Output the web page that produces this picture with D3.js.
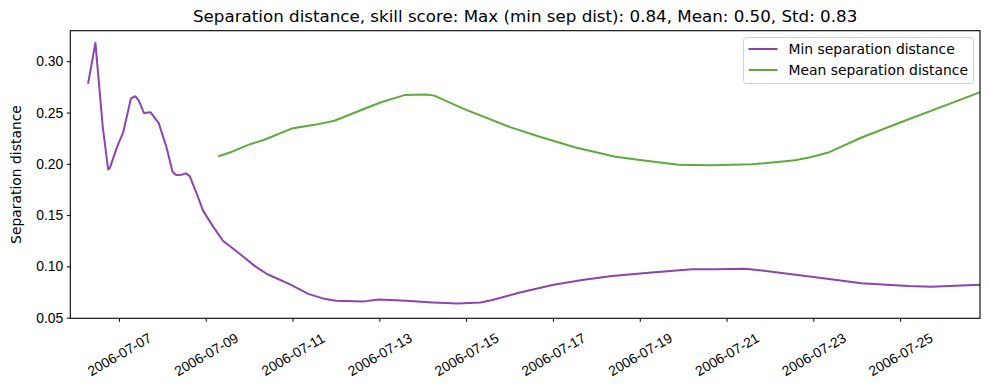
<!DOCTYPE html>
<html>
<head>
<meta charset="utf-8">
<script src="https://cdn.jsdelivr.net/npm/d3@7"></script>
<style>
  body { margin: 0; background: #fff; }
  svg { font-family: "DejaVu Sans", sans-serif; }
</style>
</head>
<body>
<svg id="chart"></svg>
<script>
// figure size
const width = 989, height = 390;
const margin = {top: 30.7, right: 9, bottom: 71.7, left: 70.3};

// series: min separation distance
const minTimes = [
  "2006-07-06 07:00", "2006-07-06 11:00", "2006-07-06 15:00", "2006-07-06 18:00", "2006-07-06 19:00",
  "2006-07-06 23:00", "2006-07-07 02:20", "2006-07-07 06:40", "2006-07-07 09:00", "2006-07-07 11:00",
  "2006-07-07 13:50", "2006-07-07 17:30", "2006-07-07 22:00", "2006-07-08 02:20", "2006-07-08 05:40",
  "2006-07-08 07:50", "2006-07-08 10:45", "2006-07-08 13:00", "2006-07-08 15:10", "2006-07-08 18:50",
  "2006-07-08 22:30", "2006-07-09 04:00", "2006-07-09 09:30", "2006-07-09 18:45", "2006-07-10 03:00",
  "2006-07-10 09:50", "2006-07-10 22:20", "2006-07-11 09:00", "2006-07-11 16:45", "2006-07-12 00:00",
  "2006-07-12 15:40", "2006-07-12 23:40", "2006-07-13 14:45", "2006-07-14 05:25", "2006-07-14 19:10",
  "2006-07-15 08:00", "2006-07-15 14:30", "2006-07-16 05:15", "2006-07-16 23:40", "2006-07-17 16:10",
  "2006-07-18 08:40", "2006-07-19 05:00", "2006-07-20 04:50", "2006-07-20 17:45", "2006-07-21 10:20",
  "2006-07-22 01:00", "2006-07-22 23:00", "2006-07-24 02:40", "2006-07-25 04:25", "2006-07-25 17:15",
  "2006-07-26 20:10"
];
const minValues = [
  0.279, 0.318, 0.237, 0.1946, 0.196,
  0.2168, 0.2306, 0.2639, 0.2659, 0.2616,
  0.2495, 0.2502, 0.2397, 0.2159, 0.192,
  0.189, 0.1894, 0.1907, 0.188, 0.1718,
  0.1544, 0.139, 0.125, 0.1123, 0.1005,
  0.0926, 0.0828, 0.073, 0.0688, 0.0665,
  0.0659, 0.0678, 0.0665, 0.0649, 0.0639,
  0.0649, 0.0672, 0.0743, 0.0819, 0.0868,
  0.0907, 0.0939, 0.0973, 0.0973, 0.0976,
  0.0949, 0.09, 0.0835, 0.0809, 0.0802,
  0.0822
];

// series: mean separation distance
const meanTimes = [
  "2006-07-09 07:20", "2006-07-09 13:15", "2006-07-10 00:15", "2006-07-10 07:40", "2006-07-11 00:10",
  "2006-07-11 12:10", "2006-07-11 23:10", "2006-07-12 18:30", "2006-07-13 01:00", "2006-07-13 14:20",
  "2006-07-14 01:45", "2006-07-14 06:20", "2006-07-14 22:00", "2006-07-16 00:40", "2006-07-16 16:15",
  "2006-07-17 12:30", "2006-07-18 10:35", "2006-07-19 01:15", "2006-07-19 21:30", "2006-07-20 15:50",
  "2006-07-21 14:00", "2006-07-22 13:55", "2006-07-22 23:00", "2006-07-23 08:15", "2006-07-24 02:40",
  "2006-07-25 02:35", "2006-07-26 20:10"
];
const meanValues = [
  0.2075, 0.211, 0.219, 0.223, 0.2348,
  0.238, 0.242, 0.2557, 0.26, 0.2672,
  0.2675, 0.2665, 0.2541, 0.2355, 0.2267,
  0.2159, 0.207, 0.2034, 0.1992, 0.1985,
  0.1995, 0.2034, 0.2067, 0.211, 0.2257,
  0.242, 0.2698
];

const xTickLabels = ["2006-07-07", "2006-07-09", "2006-07-11", "2006-07-13", "2006-07-15",
  "2006-07-17", "2006-07-19", "2006-07-21", "2006-07-23", "2006-07-25"];
const yTickValues = [0.05, 0.10, 0.15, 0.20, 0.25, 0.30];
const xDomain = ["2006-07-05 21:06", "2006-07-26 20:10"];
const yDomain = [0.0494, 0.3298];

const titleText = "Separation distance, skill score: Max (min sep dist): 0.84, Mean: 0.50, Std: 0.83";
const seriesNames = ["Min separation distance", "Mean separation distance"];
const seriesColors = ["#8e44ad", "#5dab3c"];

const parseTime = d3.timeParse("%Y-%m-%d %H:%M");
const parseDay = d3.timeParse("%Y-%m-%d");

const minData = minTimes.map((t, i) => ({t: parseTime(t), v: minValues[i]}));
const meanData = meanTimes.map((t, i) => ({t: parseTime(t), v: meanValues[i]}));

const svg = d3.select("#chart").attr("width", width).attr("height", height);

const x = d3.scaleTime()
  .domain(xDomain.map(parseTime))
  .range([margin.left, width - margin.right]);
const y = d3.scaleLinear()
  .domain(yDomain)
  .range([height - margin.bottom, margin.top]);

// clip so lines stop at the frame
svg.append("clipPath").attr("id", "plotClip")
  .append("rect")
  .attr("x", margin.left).attr("y", margin.top)
  .attr("width", width - margin.left - margin.right)
  .attr("height", height - margin.top - margin.bottom);

const line = d3.line().x(d => x(d.t)).y(d => y(d.v));

const lines = svg.append("g").attr("clip-path", "url(#plotClip)");
[minData, meanData].forEach((data, i) => {
  lines.append("path")
    .datum(data)
    .attr("d", line)
    .attr("fill", "none")
    .attr("stroke", seriesColors[i])
    .attr("stroke-width", 2)
    .attr("stroke-linejoin", "round")
    .attr("stroke-linecap", "square");
});

const tickFont = 13.9;

// x axis
const xAxis = svg.append("g")
  .attr("transform", `translate(0,${height - margin.bottom})`)
  .call(d3.axisBottom(x)
    .tickValues(xTickLabels.map(parseDay))
    .tickSize(3.5)
    .tickFormat(d3.timeFormat("%Y-%m-%d")));
xAxis.select(".domain").remove();
xAxis.selectAll(".tick line").attr("stroke", "#000").attr("stroke-width", 1);
xAxis.selectAll(".tick text")
  .attr("font-size", tickFont)
  .attr("fill", "#000")
  .attr("text-anchor", "middle")
  .attr("dominant-baseline", "central")
  .attr("x", 0).attr("y", 0).attr("dy", null)
  .attr("transform", "translate(0,36) rotate(-30)");

// y axis
const yAxis = svg.append("g")
  .attr("transform", `translate(${margin.left},0)`)
  .call(d3.axisLeft(y)
    .tickValues(yTickValues)
    .tickSize(3.5)
    .tickPadding(3.5)
    .tickFormat(d3.format(".2f")));
yAxis.select(".domain").remove();
yAxis.selectAll(".tick line").attr("stroke", "#000").attr("stroke-width", 1);
yAxis.selectAll(".tick text").attr("font-size", tickFont).attr("fill", "#000");

// frame
svg.append("rect")
  .attr("x", margin.left).attr("y", margin.top)
  .attr("width", width - margin.left - margin.right)
  .attr("height", height - margin.top - margin.bottom)
  .attr("fill", "none").attr("stroke", "#000").attr("stroke-width", 1.1);

// y label
svg.append("text")
  .attr("transform", `translate(16,${(margin.top + height - margin.bottom) / 2}) rotate(-90)`)
  .attr("text-anchor", "middle")
  .attr("dominant-baseline", "central")
  .attr("font-size", tickFont)
  .text("Separation distance");

// title
svg.append("text")
  .attr("x", (margin.left + width - margin.right) / 2)
  .attr("y", 22)
  .attr("text-anchor", "middle")
  .attr("font-size", 16.7)
  .text(titleText);

// legend
const legend = svg.append("g");
legend.append("rect")
  .attr("x", 743.5).attr("y", 37.5)
  .attr("width", 230).attr("height", 46)
  .attr("rx", 3)
  .attr("fill", "#fff").attr("fill-opacity", 0.8)
  .attr("stroke", "#d0d0d0").attr("stroke-width", 1);
seriesNames.forEach((name, i) => {
  const ly = 49 + i * 21;
  legend.append("line")
    .attr("x1", 748.5).attr("x2", 777.5)
    .attr("y1", ly).attr("y2", ly)
    .attr("stroke", seriesColors[i]).attr("stroke-width", 2);
  legend.append("text")
    .attr("x", 788.5).attr("y", ly)
    .attr("dominant-baseline", "central")
    .attr("font-size", tickFont)
    .text(name);
});
</script>
</body>
</html>
